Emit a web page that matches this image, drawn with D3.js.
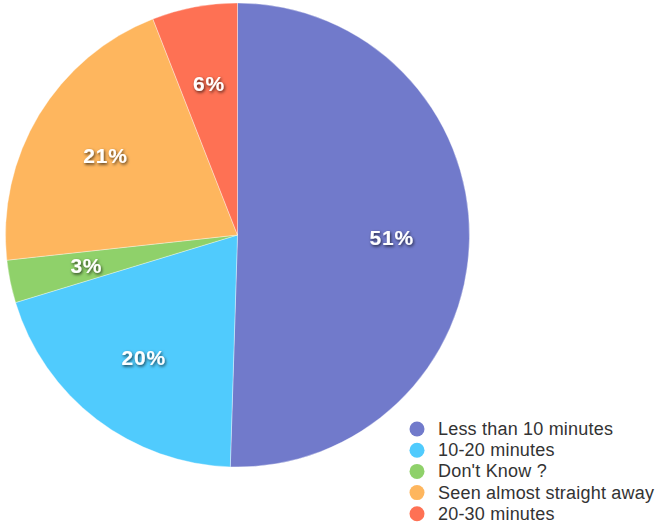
<!DOCTYPE html>
<html>
<head>
<meta charset="utf-8">
<script src="https://cdn.jsdelivr.net/npm/d3@7"></script>
<style>
  html, body { margin: 0; padding: 0; background: #ffffff; }
  svg { display: block; }
</style>
</head>
<body>
<svg id="chart" width="659" height="526"></svg>
<script>
// Survey answers: how long until being seen
const categories = ["Less than 10 minutes", "10-20 minutes", "Don't Know ?", "Seen almost straight away", "20-30 minutes"];
const values = [51, 20, 3, 21, 6];
const colors = ["#717ACB", "#50CBFD", "#8FD16A", "#FEB65E", "#FE7154"];

const svg = d3.select("#chart");
const cx = 237.5, cy = 235, radius = 232;

const defs = svg.append("defs");
const shadow = defs.append("filter").attr("id", "labelShadow")
  .attr("x", "-30%").attr("y", "-30%").attr("width", "160%").attr("height", "160%");
shadow.append("feDropShadow")
  .attr("dx", 1).attr("dy", 1.5).attr("stdDeviation", 1.5)
  .attr("flood-color", "#000").attr("flood-opacity", 0.7);

const color = d3.scaleOrdinal().domain(categories).range(colors);

const pie = d3.pie().sort(null).value(d => d.value);
const data = categories.map((c, i) => ({ name: c, value: values[i] }));
const arcs = pie(data);

const arc = d3.arc().innerRadius(0).outerRadius(radius);
const labelArc = d3.arc().innerRadius(radius * 0.665).outerRadius(radius * 0.665);

const g = svg.append("g").attr("transform", `translate(${cx},${cy})`);

g.selectAll("path.slice")
  .data(arcs)
  .join("path")
  .attr("class", "slice")
  .attr("d", arc)
  .attr("fill", d => color(d.data.name))
  .attr("stroke", "#ffffff")
  .attr("stroke-width", 0.6)
  .attr("stroke-opacity", 0.6);

g.selectAll("text.pct")
  .data(arcs)
  .join("text")
  .attr("class", "pct")
  .attr("transform", d => `translate(${labelArc.centroid(d)})`)
  .attr("text-anchor", "middle")
  .attr("dominant-baseline", "central")
  .attr("font-family", "'Liberation Sans', Arial, sans-serif")
  .attr("font-size", 21)
  .attr("font-weight", "bold")
  .attr("letter-spacing", 0.8)
  .attr("fill", "#ffffff")
  .attr("filter", "url(#labelShadow)")
  .text(d => d.data.value + "%");

// Legend
const legend = svg.append("g").attr("transform", "translate(417,429)");
const rowH = 21.2;
const rows = legend.selectAll("g.row")
  .data(categories)
  .join("g")
  .attr("class", "row")
  .attr("transform", (d, i) => `translate(0,${i * rowH})`);

rows.append("circle")
  .attr("r", 7.5)
  .attr("fill", d => color(d));

rows.append("text")
  .attr("x", 21)
  .attr("y", 0)
  .attr("dominant-baseline", "central")
  .attr("font-family", "'Liberation Sans', Arial, sans-serif")
  .attr("font-size", 18)
  .attr("letter-spacing", 0.2)
  .attr("fill", "#333333")
  .text(d => d);
</script>
</body>
</html>
